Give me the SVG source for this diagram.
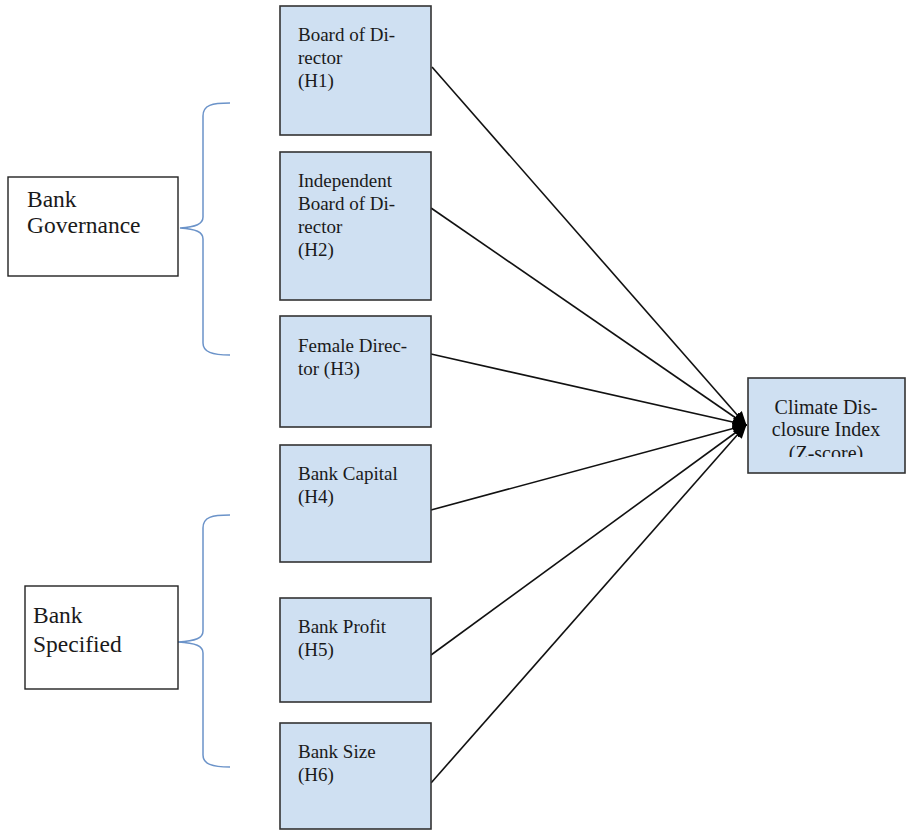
<svg xmlns="http://www.w3.org/2000/svg" width="906" height="832" viewBox="0 0 906 832">
<style>
.box{fill:#cfe0f2;stroke:#333;stroke-width:1.6}
.wbox{fill:#fff;stroke:#222;stroke-width:1.4}
.t{font-family:'Liberation Serif','Times New Roman',serif;font-size:19px;fill:#1a1a1a}
.tc{font-family:'Liberation Serif','Times New Roman',serif;font-size:20px;fill:#1a1a1a;text-anchor:middle}
.tb{font-family:'Liberation Serif','Times New Roman',serif;font-size:23.5px;fill:#1a1a1a}
.br{fill:none;stroke:#6b93c9;stroke-width:1.5}
.ln{stroke:#111;stroke-width:1.6;fill:none;marker-end:url(#ah)}
</style>
<defs>
<marker id="ah" viewBox="0 0 12 10" refX="11" refY="5" markerWidth="9" markerHeight="8" markerUnits="strokeWidth" orient="auto">
<path d="M0,0 L12,5 L0,10 z" fill="#000"/>
</marker>
<clipPath id="cclip"><rect x="748" y="378" width="157" height="79"/></clipPath>
</defs>
<rect width="906" height="832" fill="#fff"/>

<g id="connectors">
<path class="br" d="M230,103 C212,103 203,105 203,116 L203,217 C203,224 196,227 180,228 C196,229 203,232 203,239 L203,343 C203,352 212,355 230,355"/>
<path class="br" d="M230,515 C212,515 203,517 203,528 L203,631 C203,638 196,641 178,642 C196,643 203,646 203,653 L203,755 C203,764 212,767 230,767"/>
<line class="ln" x1="432" y1="67" x2="746" y2="425"/>
<line class="ln" x1="431" y1="208" x2="746" y2="425"/>
<line class="ln" x1="431" y1="354" x2="746" y2="425"/>
<line class="ln" x1="431" y1="510" x2="746" y2="425"/>
<line class="ln" x1="431" y1="655" x2="746" y2="425"/>
<line class="ln" x1="431" y1="783" x2="746" y2="425"/>
</g>

<g id="bank-governance">
<rect class="wbox" x="8" y="177" width="170" height="99"/>
<text class="tb" x="27" y="207">Bank</text>
<text class="tb" x="27" y="233">Governance</text>
</g>

<g id="bank-specified">
<rect class="wbox" x="25" y="586" width="153" height="103"/>
<text class="tb" x="33" y="623">Bank</text>
<text class="tb" x="33" y="652">Specified</text>
</g>

<g id="h1">
<rect class="box" x="280" y="6" width="151" height="129"/>
<text class="t" x="298" y="41">Board of Di-</text>
<text class="t" x="298" y="64">rector</text>
<text class="t" x="298" y="87">(H1)</text>
</g>

<g id="h2">
<rect class="box" x="280" y="152" width="151" height="148"/>
<text class="t" x="298" y="187">Independent</text>
<text class="t" x="298" y="210">Board of Di-</text>
<text class="t" x="298" y="233">rector</text>
<text class="t" x="298" y="256">(H2)</text>
</g>

<g id="h3">
<rect class="box" x="280" y="316" width="151" height="111"/>
<text class="t" x="298" y="352">Female Direc-</text>
<text class="t" x="298" y="375">tor (H3)</text>
</g>

<g id="h4">
<rect class="box" x="280" y="445" width="151" height="117"/>
<text class="t" x="298" y="480">Bank Capital</text>
<text class="t" x="298" y="503">(H4)</text>
</g>

<g id="h5">
<rect class="box" x="280" y="598" width="151" height="104"/>
<text class="t" x="298" y="633">Bank Profit</text>
<text class="t" x="298" y="656">(H5)</text>
</g>

<g id="h6">
<rect class="box" x="280" y="723" width="151" height="106"/>
<text class="t" x="298" y="758">Bank Size</text>
<text class="t" x="298" y="781">(H6)</text>
</g>

<g id="climate">
<rect class="box" x="748" y="378" width="157" height="95"/>
<g clip-path="url(#cclip)">
<text class="tc" x="826" y="414">Climate Dis-</text>
<text class="tc" x="826" y="436">closure Index</text>
<text class="tc" x="826" y="460">(Z-score)</text>
</g>
</g>
</svg>
